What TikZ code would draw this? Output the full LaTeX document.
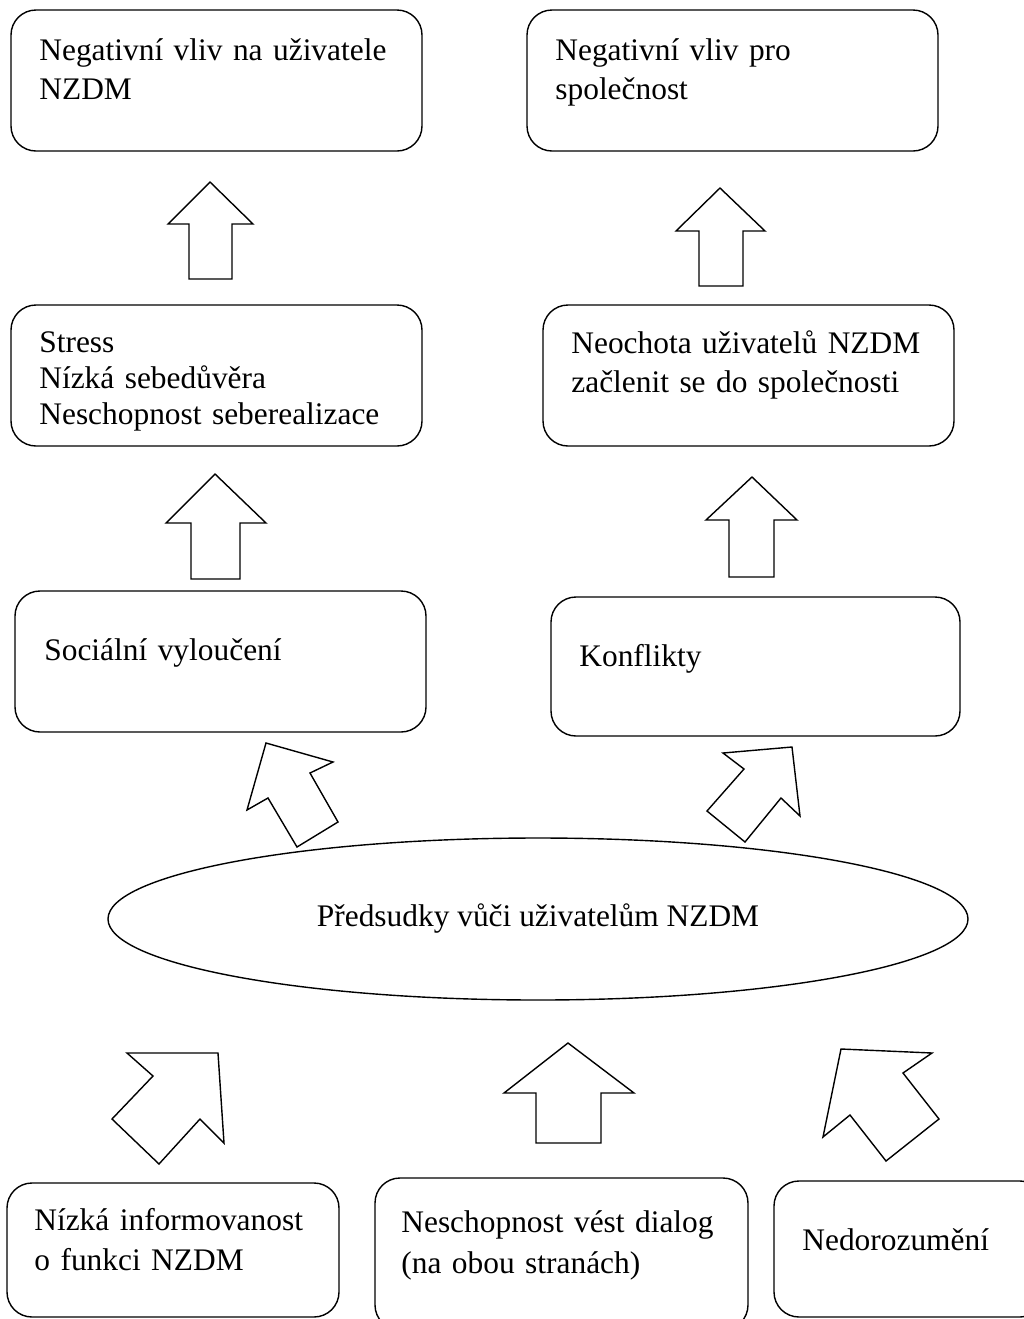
\documentclass[tikz,border=0pt]{standalone}
\usepackage{fontspec}
\setmainfont{Liberation Serif}
\usepackage{tikz}
\usetikzlibrary{fit,shapes.geometric}

\tikzset{
 box/.style={draw,line width=.7pt,rounded corners=12.5pt,inner sep=0pt},
 txt/.style={anchor=base west,inner sep=0pt,align=left,text width=9cm,font=\fontsize{15.7}{19.5}\selectfont},
 blockarrow/.style={draw,line width=.7pt,line join=miter}
}

\begin{document}
\begin{tikzpicture}[x=.5pt,y=-.5pt]
 \useasboundingbox (0,0) rectangle (1024,1319);
 \clip (0,0) rectangle (1024,1319);
 % top row
 \node[box,fit={(11,10) (422,151)}] (uzivbox) {};
 \node[txt] (uziv) at (39,60) {Negativní vliv na uživatele\\NZDM};
 \node[box,fit={(527,10) (938,151)}] (spolbox) {};
 \node[txt] (spol) at (555,60) {Negativní vliv pro\\společnost};
 \draw[blockarrow] (210,182)--(253,224)--(232,224)--(232,279)--(189,279)--(189,224)--(168,224)--cycle;
 \draw[blockarrow] (720,188)--(765,231)--(743,231)--(743,286)--(699,286)--(699,231)--(676,231)--cycle;
 % second row
 \node[box,fit={(11,305) (422,446)}] (stresbox) {};
 \node[txt,font=\fontsize{15.7}{18}\selectfont] (stres) at (39,352) {Stress\\Nízká sebedůvěra\\Neschopnost seberealizace};
 \node[box,fit={(543,305) (954,446)}] (neochbox) {};
 \node[txt] (neoch) at (571,353) {Neochota uživatelů NZDM\\začlenit se do společnosti};
 \draw[blockarrow] (215,474)--(266,523)--(240,523)--(240,579)--(191,579)--(191,523)--(166,523)--cycle;
 \draw[blockarrow] (752,477)--(797,520)--(774,520)--(774,577)--(729,577)--(729,520)--(706,520)--cycle;
 % third row
 \node[box,fit={(15,591) (426,732)}] (vyloubox) {};
 \node[txt] (vylou) at (44,660) {Sociální vyloučení};
 \node[box,fit={(551,597) (960,736)}] (konfbox) {};
 \node[txt] (konf) at (579,666) {Konflikty};
 \draw[blockarrow] (266,743)--(333,762)--(310,773)--(338,822)--(297,847)--(268,798)--(247,810)--cycle;
 \draw[blockarrow] (792,747)--(800,816)--(781,798)--(745,842)--(707,811)--(744,769)--(723,753)--cycle;
 % ellipse
 \node[draw,ellipse,line width=.7pt,inner sep=0pt,minimum width=430pt,minimum height=81pt,
   font=\fontsize{15.7}{19.5}\selectfont] (preds) at (538,919) {Předsudky vůči uživatelům NZDM};
 \draw[blockarrow] (218,1053)--(224,1143)--(200,1119)--(159,1164)--(112,1119)--(153,1076)--(127,1053)--cycle;
 \draw[blockarrow] (568,1043)--(634,1093)--(601,1093)--(601,1143)--(536,1143)--(536,1093)--(504,1093)--cycle;
 \draw[blockarrow] (841,1049)--(932,1053)--(903,1073)--(939,1119)--(886,1161)--(850,1115)--(823,1137)--cycle;
 % bottom row
 \node[box,fit={(7,1183) (339,1317)}] (infobox) {};
 \node[txt,font=\fontsize{15.7}{20}\selectfont] (info) at (34,1230) {Nízká informovanost\\o funkci NZDM};
 \node[box,fit={(375,1178) (748,1330)}] (dialbox) {};
 \node[txt,font=\fontsize{15.7}{20.5}\selectfont] (dial) at (401,1232) {Neschopnost vést dialog\\(na obou stranách)};
 \node[box,fit={(774,1181) (1045,1317)}] (nedobox) {};
 \node[txt] (nedo) at (802,1250) {Nedorozumění};
\end{tikzpicture}
\end{document}
